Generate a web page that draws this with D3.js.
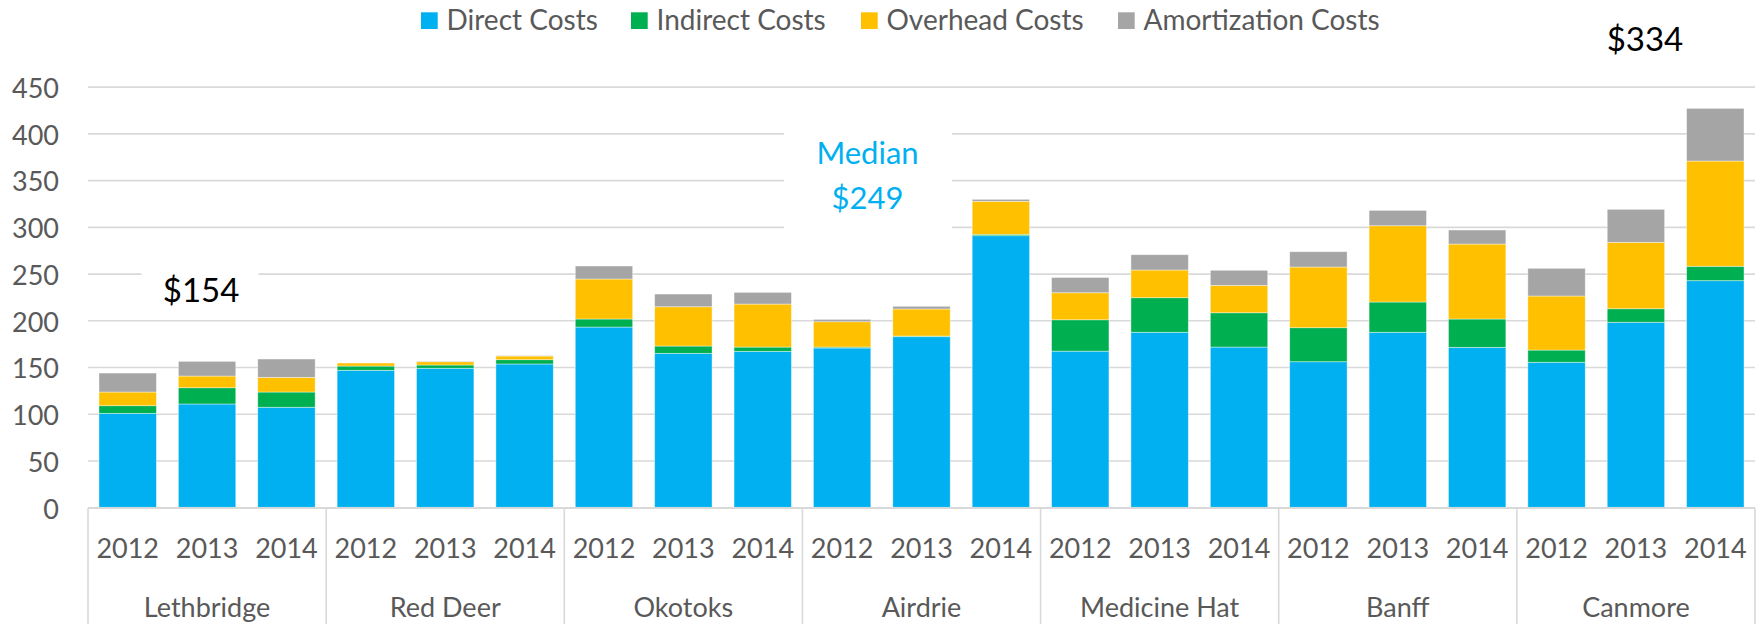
<!DOCTYPE html>
<html lang="en">
<head>
<meta charset="UTF-8">
<title>Costs by municipality</title>
<script src="https://d3js.org/d3.v7.min.js"></script>
<style>
  body { margin: 0; background: #fff; }
  text { font-family: Lato, "Open Sans", sans-serif; }
</style>
</head>
<body>
<script>
// data
var cities = ["Lethbridge", "Red Deer", "Okotoks", "Airdrie", "Medicine Hat", "Banff", "Canmore"];
var years = ["2012", "2013", "2014"];
var seriesNames = ["Direct Costs", "Indirect Costs", "Overhead Costs", "Amortization Costs"];
var direct   = [100.5, 110.5, 107, 146.5, 148.7, 153.3, 192.8, 164.7, 166.8, 170.4, 182.5, 290.5, 167, 187.2, 171.4, 155.7, 187.2, 171.1, 155.1, 197.9, 242.4];
var indirect = [8.2, 17.4, 16.3, 4.6, 3.5, 4.6, 8.6, 7.8, 4.6, 1, 0.7, 1.5, 33.6, 37, 36.7, 36.4, 32.4, 30.3, 13.1, 14.5, 15.4];
var overhead = [14.6, 12.5, 15.7, 3.2, 3.5, 3.9, 42.8, 42, 46, 27.1, 28.9, 35.3, 28.9, 29.6, 29.3, 64.9, 81.6, 80.2, 57.8, 71, 112.6];
var amort    = [20.3, 15.7, 19.6, 0, 0.5, 0.5, 13.9, 13.6, 12.5, 2.5, 2.9, 2.1, 16.3, 16.4, 16.1, 16.4, 16.4, 15, 29.6, 35.3, 56.3];
var yTicks = [0, 50, 100, 150, 200, 250, 300, 350, 400, 450];
var notes = [
  { lines: ["$154"], city: "Lethbridge", color: "#000" },
  { lines: ["Median", "$249"], city: "Airdrie", color: "#00B0F0" },
  { lines: ["$334"], city: "Canmore", color: "#000" }
];

var colors = ["#00B0F0", "#00B050", "#FFC000", "#A5A5A5"];
var W = 1762, H = 624;
var plotLeft = 88, plotRight = 1755, plotTop = 86.6, plotBottom = 507.3;

var svg = d3.select("body").append("svg")
    .attr("width", W)
    .attr("height", H);

// one row per bar
var rows = [];
cities.forEach(function (c, ci) {
  years.forEach(function (yr, yi) {
    var i = ci * 3 + yi;
    rows.push({ key: c + "|" + yr, city: c, year: yr,
      "Direct Costs": direct[i], "Indirect Costs": indirect[i],
      "Overhead Costs": overhead[i], "Amortization Costs": amort[i] });
  });
});

var x = d3.scaleBand()
    .domain(rows.map(function (d) { return d.key; }))
    .range([plotLeft, plotRight])
    .paddingInner(0.277)
    .paddingOuter(0.1385);

var xCity = d3.scaleBand()
    .domain(cities)
    .range([plotLeft, plotRight]);

var y = d3.scaleLinear()
    .domain([0, 450])
    .range([plotBottom, plotTop]);

// gridlines + y labels
var yAxis = svg.append("g")
    .attr("transform", "translate(" + plotLeft + ",0)")
    .call(d3.axisLeft(y).tickValues(yTicks).tickSize(-(plotRight - plotLeft)).tickPadding(0));
yAxis.select(".domain").remove();
yAxis.selectAll(".tick line")
    .attr("stroke", "#D9D9D9")
    .attr("stroke-width", 1.6);
yAxis.selectAll(".tick text")
    .attr("x", -29)
    .attr("dy", "0.4em")
    .attr("fill", "#595959")
    .style("font-size", "27px");

// white boxes behind the annotations (offset from the city centre)
var boxes = [
  { city: "Lethbridge", dx: -7, w: 117, y0: 268, y1: 319 },
  { city: "Airdrie", dx: -53.5, w: 168, y0: 122, y1: 240 }
];
svg.selectAll(".notebox")
  .data(boxes)
  .enter().append("rect")
    .attr("x", function (d) { return xCity(d.city) + xCity.bandwidth() / 2 + d.dx - d.w / 2; })
    .attr("y", function (d) { return d.y0; })
    .attr("width", function (d) { return d.w; })
    .attr("height", function (d) { return d.y1 - d.y0; })
    .attr("fill", "#fff");

// stacked bars
var stack = d3.stack().keys(seriesNames);
var layers = stack(rows);

svg.append("g").selectAll("g")
  .data(layers)
  .enter().append("g")
    .attr("fill", function (d, i) { return colors[i]; })
  .selectAll("rect")
  .data(function (d) { return d; })
  .enter().append("rect")
    .attr("x", function (d) { return x(d.data.key); })
    .attr("y", function (d) { return y(d[1]); })
    .attr("width", x.bandwidth())
    .attr("height", function (d) { return Math.max(0, y(d[0]) - y(d[1])); })
    .attr("stroke", "#fff")
    .attr("stroke-opacity", 0.5)
    .attr("stroke-width", 0.8);

// category axis
svg.append("line")
    .attr("x1", plotLeft).attr("x2", plotRight)
    .attr("y1", plotBottom + 0.8).attr("y2", plotBottom + 0.8)
    .attr("stroke", "#D9D9D9")
    .attr("stroke-width", 1.6);

var seps = cities.map(function (c) { return xCity(c); }).concat([plotRight]);
svg.selectAll(".sep")
  .data(seps)
  .enter().append("line")
    .attr("x1", function (d) { return d; })
    .attr("x2", function (d) { return d; })
    .attr("y1", plotBottom + 1)
    .attr("y2", H)
    .attr("stroke", "#D9D9D9")
    .attr("stroke-width", 1.6);

var xAxis = svg.append("g")
    .attr("transform", "translate(0," + plotBottom + ")")
    .call(d3.axisBottom(x).tickSize(0).tickFormat(function (d) { return d.split("|")[1]; }));
xAxis.select(".domain").remove();
xAxis.selectAll(".tick text")
    .attr("y", 51)
    .attr("dy", 0)
    .attr("fill", "#595959")
    .style("font-size", "27px");

svg.selectAll(".city")
  .data(cities)
  .enter().append("text")
    .attr("x", function (d) { return xCity(d) + xCity.bandwidth() / 2; })
    .attr("y", 616.7)
    .attr("text-anchor", "middle")
    .attr("fill", "#595959")
    .style("font-size", "27px")
    .text(function (d) { return d; });

// annotations
var noteY = { "Lethbridge": [301.7], "Airdrie": [164, 209.3], "Canmore": [50.5] };
var noteDx = { "Lethbridge": -6, "Airdrie": -54, "Canmore": 9 };
var noteSize = { "Lethbridge": "33px", "Airdrie": "31px", "Canmore": "33px" };
notes.forEach(function (n) {
  n.lines.forEach(function (line, li) {
    svg.append("text")
      .attr("x", xCity(n.city) + xCity.bandwidth() / 2 + noteDx[n.city])
      .attr("y", noteY[n.city][li])
      .attr("text-anchor", "middle")
      .attr("fill", n.color)
      .style("font-size", noteSize[n.city])
      .text(line);
  });
});

// legend
var legendX = [421, 631, 861, 1118];
var legend = svg.selectAll(".legend")
  .data(seriesNames)
  .enter().append("g")
    .attr("transform", function (d, i) { return "translate(" + legendX[i] + ",0)"; });
legend.append("rect")
    .attr("y", 12.3)
    .attr("width", 16.7)
    .attr("height", 16.7)
    .attr("fill", function (d, i) { return colors[i]; });
legend.append("text")
    .attr("x", 25.5)
    .attr("y", 30)
    .attr("fill", "#595959")
    .style("font-size", "28px")
    .text(function (d) { return d; });
</script>
</body>
</html>
